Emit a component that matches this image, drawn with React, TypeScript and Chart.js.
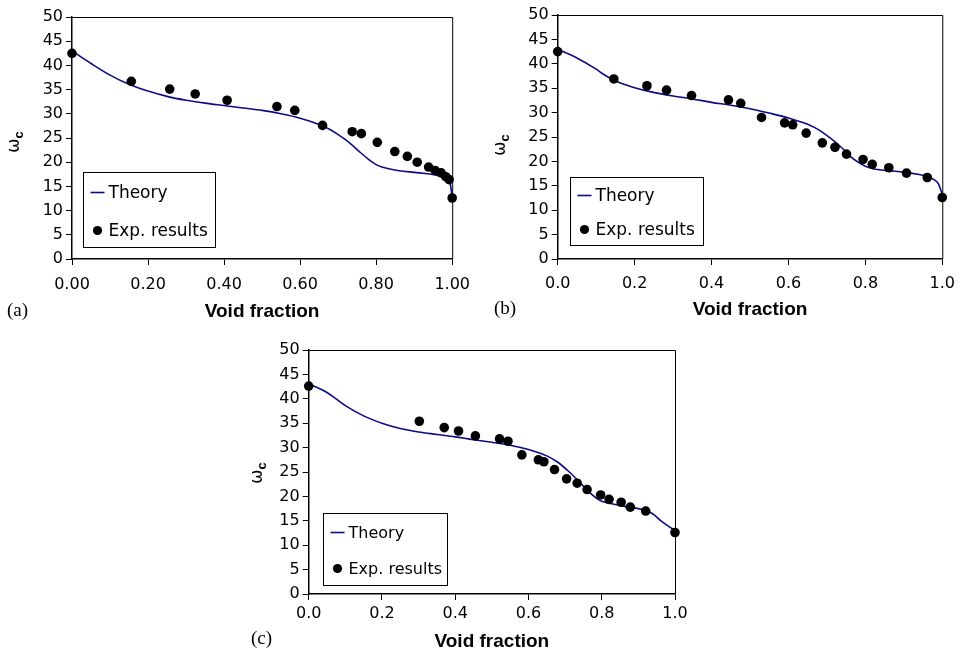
import React, { useEffect, useRef } from 'react';
import { Chart, registerables } from 'chart.js';

Chart.register(...registerables);

// ---------- data ----------
const theoryAX = [0, 0.05, 0.1, 0.15, 0.2, 0.25, 0.3, 0.35, 0.4, 0.45, 0.5, 0.55, 0.6, 0.65, 0.68, 0.7, 0.72, 0.74, 0.76, 0.78, 0.79, 0.8, 0.815, 0.83, 0.86, 0.9, 0.94, 0.97, 0.985, 0.995, 1.0];
const theoryAY = [43.0, 40.4, 38.0, 36.1, 34.7, 33.6, 32.8, 32.2, 31.7, 31.2, 30.7, 30.0, 29.1, 27.8, 26.7, 25.7, 24.6, 23.3, 21.9, 20.6, 20.0, 19.5, 19.0, 18.7, 18.25, 17.9, 17.55, 17.1, 16.6, 15.5, 12.8];
const expAX = [0, 0.156, 0.257, 0.324, 0.408, 0.539, 0.586, 0.659, 0.737, 0.761, 0.803, 0.849, 0.882, 0.908, 0.938, 0.955, 0.971, 0.983, 0.992, 1.0];
const expAY = [42.5, 36.7, 35.1, 34.1, 32.8, 31.5, 30.7, 27.6, 26.3, 25.9, 24.1, 22.2, 21.2, 20.0, 19.0, 18.3, 17.8, 17.0, 16.4, 12.6];

const theoryBX = [0, 0.05, 0.1, 0.12, 0.14, 0.16, 0.18, 0.2, 0.24, 0.3, 0.35, 0.4, 0.45, 0.5, 0.55, 0.6, 0.65, 0.68, 0.71, 0.74, 0.76, 0.78, 0.8, 0.82, 0.86, 0.9, 0.94, 0.96, 0.98, 0.99, 1.0];
const theoryBY = [43.0, 41.2, 38.9, 37.8, 36.9, 36.15, 35.6, 35.1, 34.3, 33.4, 32.8, 32.1, 31.5, 30.8, 29.9, 28.9, 27.6, 26.4, 24.7, 22.7, 21.1, 19.9, 19.0, 18.5, 18.1, 17.8, 17.3, 16.9, 16.2, 15.4, 13.3];
const expBX = [0, 0.146, 0.232, 0.283, 0.348, 0.444, 0.476, 0.53, 0.59, 0.611, 0.646, 0.688, 0.721, 0.751, 0.794, 0.818, 0.861, 0.907, 0.961, 1.0];
const expBY = [42.5, 36.9, 35.5, 34.6, 33.5, 32.6, 31.9, 29.0, 27.9, 27.5, 25.8, 23.8, 22.9, 21.5, 20.4, 19.4, 18.7, 17.6, 16.7, 12.6];

const theoryCX = [0, 0.05, 0.1, 0.15, 0.2, 0.25, 0.3, 0.35, 0.4, 0.45, 0.5, 0.55, 0.6, 0.65, 0.68, 0.71, 0.74, 0.76, 0.79, 0.8, 0.82, 0.86, 0.9, 0.92, 0.94, 0.96, 0.98, 1.0];
const theoryCY = [43.1, 41.3, 38.6, 36.5, 35.0, 33.9, 33.2, 32.7, 32.2, 31.6, 31.1, 30.5, 29.6, 28.3, 27.0, 25.1, 22.9, 21.3, 19.4, 19.0, 18.6, 18.0, 17.5, 17.1, 16.4, 15.1, 14.0, 13.0];
const expCX = [0, 0.302, 0.37, 0.409, 0.455, 0.521, 0.544, 0.582, 0.627, 0.642, 0.671, 0.704, 0.733, 0.76, 0.797, 0.82, 0.853, 0.878, 0.92, 1.0];
const expCY = [42.6, 35.4, 34.1, 33.4, 32.4, 31.8, 31.3, 28.5, 27.5, 27.1, 25.5, 23.6, 22.7, 21.4, 20.3, 19.4, 18.8, 17.8, 17.0, 12.6];

const xTickLabelsA = ['0.00', '0.20', '0.40', '0.60', '0.80', '1.00'];
const xTickLabelsBC = ['0.0', '0.2', '0.4', '0.6', '0.8', '1.0'];
const yTickLabels = ['0', '5', '10', '15', '20', '25', '30', '35', '40', '45', '50'];

const seriesNames = ['Theory', 'Exp. results'];
const xTitle = 'Void fraction';

// ---------- layout ----------
const panels = [
  {
    id: 'a', left: 0, top: 0, w: 480, h: 330,
    area: { l: 72, r: 453, t: 17, b: 259 },
    xPad: 10, titleCY: 312,
    omega: { x: 16, y: 142 },
    legend: { dx: 11, db: 12, w: 132, h: 75, r1: 20, r2: 17, font: 17 },
    tag: { text: '(a)', x: 7, y: 300 },
    tx: theoryAX, ty: theoryAY, ex: expAX, ey: expAY, xLabels: xTickLabelsA,
  },
  {
    id: 'b', left: 480, top: 0, w: 484, h: 330,
    area: { l: 77.7, r: 466, t: 15, b: 259 },
    xPad: 9, titleCY: 310,
    omega: { x: 22, y: 145 },
    legend: { dx: 12, db: 14, w: 133, h: 68, r1: 18, r2: 16, font: 17 },
    tag: { text: '(b)', x: 494, y: 298 },
    tx: theoryBX, ty: theoryBY, ex: expBX, ey: expBY, xLabels: xTickLabelsBC,
  },
  {
    id: 'c', left: 200, top: 330, w: 560, h: 323,
    area: { l: 108.7, r: 475, t: 20, b: 264 },
    xPad: 4.5, titleCY: 311.6,
    omega: { x: 59, y: 143 },
    legend: { dx: 14, db: 9, w: 124, h: 72, r1: 19, r2: 17, font: 16 },
    tag: { text: '(c)', x: 251, y: 628 },
    tx: theoryCX, ty: theoryCY, ex: expCX, ey: expCY, xLabels: xTickLabelsBC,
  },
];

const LINE_COLOR = '#0c0c86';
const TICK_FONT = { family: 'DejaVu Sans, sans-serif', size: 16 };

function Panel({ p }: { p: any }) {
  const ref = useRef<HTMLCanvasElement | null>(null);
  useEffect(() => {
    if (!ref.current) return;
    const decor = {
      id: 'decor_' + p.id,
      beforeDatasetsDraw(chart: any) {
        const { ctx, chartArea } = chart;
        ctx.save();
        ctx.strokeStyle = '#000';
        ctx.lineWidth = 1;
        ctx.beginPath();
        ctx.moveTo(chartArea.left, chartArea.top + 0.5);
        ctx.lineTo(chartArea.right + 0.5, chartArea.top + 0.5);
        ctx.lineTo(chartArea.right + 0.5, chartArea.bottom);
        ctx.stroke();
        ctx.restore();
      },
      afterDraw(chart: any) {
        const { ctx, chartArea } = chart;
        const L = p.legend;
        const x0 = Math.round(chartArea.left + L.dx) + 0.5;
        const y1 = Math.round(chartArea.bottom - L.db) + 0.5;
        const y0 = y1 - L.h;
        ctx.save();
        ctx.fillStyle = '#fff';
        ctx.fillRect(x0, y0, L.w, L.h);
        ctx.strokeStyle = '#000';
        ctx.lineWidth = 1;
        ctx.strokeRect(x0, y0, L.w, L.h);
        const ry1 = y0 + L.r1;
        ctx.strokeStyle = LINE_COLOR;
        ctx.lineWidth = 1.6;
        ctx.beginPath();
        ctx.moveTo(x0 + 7, ry1);
        ctx.lineTo(x0 + 21, ry1);
        ctx.stroke();
        ctx.fillStyle = '#000';
        ctx.font = L.font + 'px "DejaVu Sans", sans-serif';
        ctx.textBaseline = 'middle';
        ctx.textAlign = 'left';
        ctx.fillText(seriesNames[0], x0 + 25, ry1 + 1);
        const ry2 = y1 - L.r2;
        ctx.beginPath();
        ctx.arc(x0 + 14, ry2, 4.6, 0, Math.PI * 2);
        ctx.fill();
        ctx.fillText(seriesNames[1], x0 + 25, ry2 + 1);
        ctx.restore();

        // y-axis title: omega with bold subscript c
        ctx.save();
        ctx.translate(p.omega.x, p.omega.y);
        ctx.rotate(-Math.PI / 2);
        ctx.fillStyle = '#000';
        ctx.textBaseline = 'alphabetic';
        ctx.textAlign = 'left';
        const f1 = '17px "DejaVu Sans", sans-serif';
        const f2 = 'bold 13px "Liberation Sans", Arial, sans-serif';
        ctx.font = f1;
        const w1 = ctx.measureText('ω').width;
        ctx.font = f2;
        const w2 = ctx.measureText('c').width;
        const start = -(w1 + w2) / 2;
        ctx.font = f1;
        ctx.fillText('ω', start, 3);
        ctx.font = f2;
        ctx.fillText('c', start + w1, 7);
        ctx.restore();
      },
    };

    const chart = new Chart(ref.current, {
      type: 'scatter',
      data: {
        datasets: [
          {
            label: seriesNames[1],
            data: p.ex.map((x: number, i: number) => ({ x, y: p.ey[i] })),
            showLine: false,
            pointRadius: 4.8,
            pointHoverRadius: 4.8,
            backgroundColor: '#000',
            borderColor: '#000',
            borderWidth: 0,
            clip: false as any,
          },
          {
            label: seriesNames[0],
            data: p.tx.map((x: number, i: number) => ({ x, y: p.ty[i] })),
            showLine: true,
            pointRadius: 0,
            borderColor: LINE_COLOR,
            backgroundColor: LINE_COLOR,
            borderWidth: 1.6,
            cubicInterpolationMode: 'monotone',
            clip: false as any,
          },
        ],
      },
      options: {
        responsive: false,
        animation: false,
        devicePixelRatio: 1,
        events: [],
        layout: {
          padding: { left: 0, top: p.area.t, right: p.w - p.area.r, bottom: 0 },
        },
        plugins: { legend: { display: false }, tooltip: { enabled: false }, title: { display: false } },
        scales: {
          x: {
            type: 'linear',
            min: 0,
            max: 1,
            afterFit(s: any) { s.height = p.h - p.area.b; },
            afterBuildTicks(s: any) { s.ticks = [0, 0.2, 0.4, 0.6, 0.8, 1].map((v) => ({ value: v })); },
            ticks: {
              color: '#000',
              font: TICK_FONT,
              padding: p.xPad,
              maxRotation: 0,
              autoSkip: false,
              callback: (_v: any, i: number) => p.xLabels[i],
            },
            grid: { display: true, drawOnChartArea: false, drawTicks: true, tickLength: 6, color: '#000', lineWidth: 1 },
            border: { display: true, color: '#000', width: 1.5 },
            title: {
              display: true,
              text: xTitle,
              color: '#000',
              font: { family: '"Liberation Sans", Arial, sans-serif', size: 19, weight: 'bold' },
              padding: { top: 0, bottom: Math.max(0, p.h - p.titleCY - 11.4) },
            },
          },
          y: {
            type: 'linear',
            min: 0,
            max: 50,
            afterFit(s: any) { s.width = p.area.l; },
            afterBuildTicks(s: any) { s.ticks = yTickLabels.map((_t, i) => ({ value: i * 5 })); },
            ticks: {
              color: '#000',
              font: TICK_FONT,
              padding: 3,
              autoSkip: false,
              callback: (_v: any, i: number) => yTickLabels[i],
            },
            grid: { display: true, drawOnChartArea: false, drawTicks: true, tickLength: 6, color: '#000', lineWidth: 1 },
            border: { display: true, color: '#000', width: 1.5 },
          },
        },
      },
      plugins: [decor],
    } as any);
    return () => chart.destroy();
  }, []);
  return (
    <canvas
      ref={ref}
      width={p.w}
      height={p.h}
      style={{ position: 'absolute', left: p.left, top: p.top, width: p.w, height: p.h }}
    />
  );
}

export default function App() {
  useEffect(() => {
    document.body.style.margin = '0';
  }, []);
  return (
    <div style={{ position: 'fixed', left: 0, top: 0, width: 964, height: 653, background: '#fff', overflow: 'hidden' }}>
      {panels.map((p) => (
        <Panel key={p.id} p={p} />
      ))}
      {panels.map((p) => (
        <div
          key={'tag' + p.id}
          style={{
            position: 'absolute',
            left: p.tag.x,
            top: p.tag.y,
            height: 20,
            lineHeight: '20px',
            fontFamily: '"Liberation Serif", "Times New Roman", serif',
            fontSize: 19,
            color: '#000',
          }}
        >
          {p.tag.text}
        </div>
      ))}
    </div>
  );
}
